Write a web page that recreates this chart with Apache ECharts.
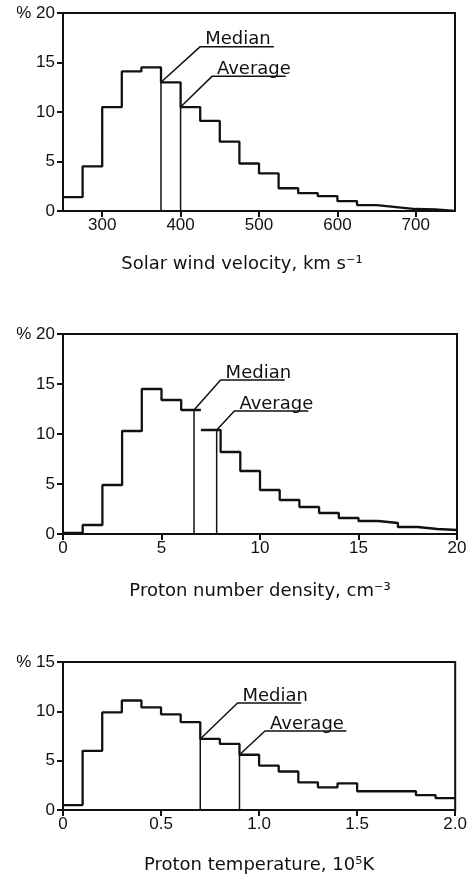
<!DOCTYPE html>
<html>
<head>
<meta charset="utf-8">
<script src="https://cdn.jsdelivr.net/npm/echarts@6/dist/echarts.min.js"></script>
<style>
html,body{margin:0;padding:0;background:#fff;}
#chart{width:470px;height:880px;}
</style>
</head>
<body>
<div id="chart"></div>
<script>
// ---- Panel 1: solar wind velocity (bins of 25 km/s from 250) ----
const velocityEdges = [250,275,300,325,350,375,400,425,450,475,500,525,550,575,600,625,650,675,700,725,750];
const velocityPercent = [1.4,4.5,10.5,14.1,14.5,13.0,10.5,9.1,7.0,4.8,3.8,2.3,1.8,1.5,1.0,0.6,0.4,0.2,0.15,0];
const velocityTicks = [300,400,500,600,700];
const velocityMedianPath = [[375,0],[375,13.0],[425,16.6],[519,16.6]];
const velocityAveragePath = [[400,0],[400,10.5],[440,13.6],[534,13.6]];

// ---- Panel 2: proton number density (bins of 1 cm^-3) ----
const densityEdges = [0,1,2,3,4,5,6,7,8,9,10,11,12,13,14,15,16,17,18,19,20];
const densityPercent = [0.1,0.9,4.9,10.3,14.5,13.4,12.4,10.4,8.2,6.3,4.4,3.4,2.7,2.1,1.6,1.3,1.1,0.7,0.5,0.4];
const densityGapEdges = [7];
const densityTicks = [0,5,10,15,20];
const densityMedianPath = [[6.65,0],[6.65,12.4],[8.0,15.4],[11.25,15.4]];
const densityAveragePath = [[7.8,0],[7.8,10.4],[8.7,12.3],[12.45,12.3]];

// ---- Panel 3: proton temperature (bins of 0.1 x 10^5 K) ----
const temperatureEdges = [0,0.1,0.2,0.3,0.4,0.5,0.6,0.7,0.8,0.9,1.0,1.1,1.2,1.3,1.4,1.5,1.6,1.7,1.8,1.9,2.0];
const temperaturePercent = [0.5,6.0,9.9,11.1,10.4,9.7,8.9,7.2,6.7,5.6,4.5,3.9,2.8,2.3,2.7,1.9,1.9,1.9,1.5,1.2];
const temperatureTicks = [0,0.5,1.0,1.5,2.0];
const temperatureMedianPath = [[0.7,0],[0.7,7.2],[0.89,10.85],[1.215,10.85]];
const temperatureAveragePath = [[0.9,0],[0.9,5.6],[1.03,8.0],[1.445,8.0]];

const xTitles = ['Solar wind velocity, km s\u207B\u00B9', 'Proton number density, cm\u207B\u00B3', 'Proton temperature, 10\u2075K'];
const yMax = [20, 20, 15];

const INK = '#111';
const TICK_FONT = 'Liberation Sans, Arial, sans-serif';
const TEXT_FONT = 'DejaVu Sans, sans-serif';

function histPoints(edges, vals, gaps) {
  const pts = [];
  for (let i = 0; i < vals.length; i++) {
    pts.push([edges[i], vals[i]]);
    const nextEdge = edges[i + 1];
    if (gaps && gaps.indexOf(nextEdge) >= 0) {
      pts.push([nextEdge, vals[i]]);
      pts.push(['-', '-']);
    }
  }
  pts.push([edges[edges.length - 1], vals[vals.length - 1]]);
  return pts;
}

function annotation(path, text, gridIdx) {
  return {
    type: 'line', xAxisIndex: gridIdx, yAxisIndex: gridIdx,
    data: path.map((p, i) => i === 2 ? {
      value: p,
      label: {
        show: true, formatter: text, position: [5, 2], align: 'left', verticalAlign: 'bottom',
        color: INK, fontFamily: TEXT_FONT, fontSize: 18
      }
    } : { value: p }),
    symbol: 'circle', symbolSize: 0.01, showSymbol: true,
    lineStyle: { color: INK, width: 1.5 }, itemStyle: { color: INK },
    silent: true, animation: false, z: 3
  };
}

function histSeries(edges, vals, gaps, gridIdx) {
  return {
    type: 'line', xAxisIndex: gridIdx, yAxisIndex: gridIdx,
    data: histPoints(edges, vals, gaps), step: 'end', connectNulls: false,
    symbol: 'none', lineStyle: { color: INK, width: 2.3 },
    silent: true, animation: false, z: 4
  };
}

const grids = [
  { left: 63, top: 13, width: 392, height: 198 },
  { left: 63, top: 334, width: 394, height: 200 },
  { left: 63, top: 662, width: 396, height: 148 }
].map(g => Object.assign(g, { show: true, borderColor: INK, borderWidth: 2, backgroundColor: 'transparent' }));

function xAxisBase(i, min, max, ticks, fmt, nameGap, namePad) {
  return {
    type: 'value', gridIndex: i, min: min, max: max,
    name: xTitles[i], nameLocation: 'middle', nameGap: nameGap,
    nameTextStyle: { color: INK, fontFamily: TEXT_FONT, fontSize: 18, padding: namePad },
    axisLine: { show: true, onZero: false, lineStyle: { color: INK, width: 2 } },
    axisTick: { show: true, inside: false, length: 6, lineStyle: { color: INK, width: 2 }, customValues: ticks },
    axisLabel: { show: true, margin: 6, color: INK, fontFamily: TICK_FONT, fontSize: 17, formatter: fmt, customValues: ticks },
    splitLine: { show: false }
  };
}

function yAxisBase(i, max) {
  return {
    type: 'value', gridIndex: i, min: 0, max: max, interval: 5,
    axisLine: { show: true, lineStyle: { color: INK, width: 2 } },
    axisTick: { show: true, inside: false, length: 6, lineStyle: { color: INK, width: 2 } },
    axisLabel: { show: true, margin: 8, color: INK, fontFamily: TICK_FONT, fontSize: 17,
      formatter: v => v === max ? '% ' + v : String(v) },
    splitLine: { show: false }
  };
}

const option = {
  backgroundColor: '#fff',
  animation: false,
  grid: grids,
  xAxis: [
    xAxisBase(0, velocityEdges[0], velocityEdges[velocityEdges.length - 1], velocityTicks, v => String(v), 44, [0, 34, 0, 0]),
    xAxisBase(1, densityEdges[0], densityEdges[densityEdges.length - 1], densityTicks, v => String(v), 48, [0, 0, 0, 0]),
    xAxisBase(2, temperatureEdges[0], temperatureEdges[temperatureEdges.length - 1], temperatureTicks, v => v === 0 ? '0' : v.toFixed(1), 46, [0, 0, 0, 0])
  ],
  yAxis: [yAxisBase(0, yMax[0]), yAxisBase(1, yMax[1]), yAxisBase(2, yMax[2])],
  series: [
    histSeries(velocityEdges, velocityPercent, null, 0),
    annotation(velocityMedianPath, 'Median', 0),
    annotation(velocityAveragePath, 'Average', 0),
    histSeries(densityEdges, densityPercent, densityGapEdges, 1),
    annotation(densityMedianPath, 'Median', 1),
    annotation(densityAveragePath, 'Average', 1),
    histSeries(temperatureEdges, temperaturePercent, null, 2),
    annotation(temperatureMedianPath, 'Median', 2),
    annotation(temperatureAveragePath, 'Average', 2)
  ]
};

const chart = echarts.init(document.getElementById('chart'), null, { renderer: 'canvas' });
chart.setOption(option);
</script>
</body>
</html>
